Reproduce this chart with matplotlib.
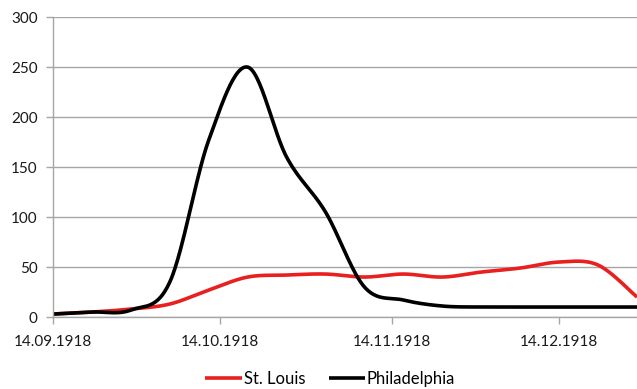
import numpy as np
import matplotlib
matplotlib.use("Agg")
import matplotlib.pyplot as plt
import matplotlib.dates as mdates
from datetime import datetime

# weekly readings
dates = ["14.09.1918", "21.09.1918", "28.09.1918", "05.10.1918", "12.10.1918",
         "19.10.1918", "26.10.1918", "02.11.1918", "09.11.1918", "16.11.1918",
         "23.11.1918", "30.11.1918", "07.12.1918", "14.12.1918", "21.12.1918",
         "28.12.1918"]
st_louis = [3, 5, 8, 13, 27, 40, 42, 43, 40, 43, 40, 45, 49, 55, 52, 20]
philadelphia = [3, 5, 7, 35, 177, 250, 160, 105, 30, 17, 11, 10, 10, 10, 10, 10]
tick_dates = ["14.09.1918", "14.10.1918", "14.11.1918", "14.12.1918"]

GRID = "#a6a6a6"


def smooth(x, y, n=30):
    """Catmull-Rom style smoothing, similar to Excel's smoothed line"""
    x = np.asarray(x, float)
    y = np.asarray(y, float)
    px = np.concatenate([[x[0]], x, [x[-1]]])
    py = np.concatenate([[y[0]], y, [y[-1]]])
    xs, ys = [], []
    t = np.linspace(0, 1, n)
    for i in range(1, len(px) - 2):
        p0x, p1x, p2x, p3x = px[i - 1], px[i], px[i + 1], px[i + 2]
        p0y, p1y, p2y, p3y = py[i - 1], py[i], py[i + 1], py[i + 2]
        c1x, c1y = p1x + (p2x - p0x) / 6, p1y + (p2y - p0y) / 6
        c2x, c2y = p2x - (p3x - p1x) / 6, p2y - (p3y - p1y) / 6
        b = [(1 - t) ** 3, 3 * (1 - t) ** 2 * t, 3 * (1 - t) * t ** 2, t ** 3]
        xs.append(b[0] * p1x + b[1] * c1x + b[2] * c2x + b[3] * p2x)
        ys.append(b[0] * p1y + b[1] * c1y + b[2] * c2y + b[3] * p2y)
    return np.concatenate(xs), np.concatenate(ys)


plt.rcParams["font.family"] = ["Lato", "DejaVu Sans"]

x = mdates.date2num([datetime.strptime(d, "%d.%m.%Y") for d in dates])
ticks = mdates.date2num([datetime.strptime(d, "%d.%m.%Y") for d in tick_dates])

fig = plt.figure(figsize=(6.37, 3.89), dpi=100)
ax = fig.add_axes([0.0832, 0.185, 0.9168, 0.771])

sx, sy = smooth(x, st_louis)
ax.plot(sx, sy, color="#e8201f", lw=2.6, label="St. Louis", solid_capstyle="butt")
px, py = smooth(x, philadelphia)
ax.plot(px, py, color="#000000", lw=2.6, label="Philadelphia", solid_capstyle="butt")

ax.set_xlim(x[0], x[-1])
ax.set_ylim(0, 300)
ax.set_yticks(range(0, 301, 50))
ax.set_xticks(ticks)
ax.set_xticklabels(tick_dates)
ax.grid(axis="y", color=GRID, lw=1)
ax.set_axisbelow(True)

for s in ["top", "right"]:
    ax.spines[s].set_visible(False)
for s in ["left", "bottom"]:
    ax.spines[s].set_color(GRID)
    ax.spines[s].set_linewidth(1)
ax.tick_params(axis="both", colors=GRID, labelcolor="#1a1a1a", labelsize=11,
               length=5, width=1)
ax.tick_params(axis="x", pad=8)
ax.tick_params(axis="y", pad=6)

ax.legend(loc="center", bbox_to_anchor=(0.475, -0.205), ncol=2, frameon=False,
          fontsize=12, handlelength=2.2, handletextpad=0.1, columnspacing=1.4)

fig.savefig("out.png", dpi=100)
